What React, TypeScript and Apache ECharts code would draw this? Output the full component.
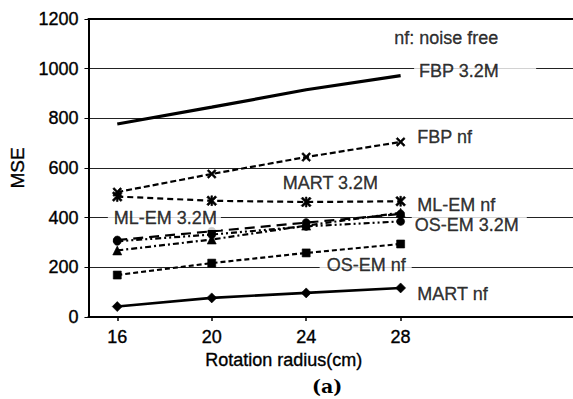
import React, { useEffect, useRef } from "react";
import * as echarts from "echarts";

const radius = [16, 20, 24, 28];
const fbp32 = [777, 845, 915, 972];
const fbpNf = [503, 576, 644, 705];
const mlemNf = [485, 468, 463, 466];
const mart32 = [310, 345, 380, 415];
const mlem32 = [268, 312, 368, 420];
const osem32 = [305, 332, 365, 385];
const osemNf = [169, 217, 258, 294];
const martNf = [42, 77, 97, 117];
const xTicks = [16, 20, 24, 28];
const yTicks = [0, 200, 400, 600, 800, 1000, 1200];

// annotation texts: [text, x (data), y (data), padLeft, padRight]
const annotations: [string, number, number, number, number][] = [
  ["nf: noise free", 27.71, 1124, 0, 0],
  ["FBP 3.2M", 28.55, 991, 5, 37],
  ["FBP nf", 28.6, 725, 2, 2],
  ["MART 3.2M", 22.9, 540, 2, 2],
  ["ML-EM nf", 28.6, 451, 2, 2],
  ["OS-EM 3.2M", 28.45, 370, 3, 8],
  ["ML-EM 3.2M", 15.58, 399, 6, 4],
  ["OS-EM nf", 24.55, 209, 7, 6],
  ["MART nf", 28.6, 93, 2, 2],
];

const FONT = "Liberation Sans, Arial, Helvetica, sans-serif";
const HEAVY = { textBorderColor: "#000", textBorderWidth: 0.35 };
const X_SYM = "path://M0,1.5L1.5,0L5,3.5L8.5,0L10,1.5L6.5,5L10,8.5L8.5,10L5,6.5L1.5,10L0,8.5L3.5,5Z";
const AST_SYM =
  "path://M0,1.5L1.5,0L5,3.5L8.5,0L10,1.5L6.5,5L10,8.5L8.5,10L5,6.5L1.5,10L0,8.5L3.5,5Z M4.2,0L5.8,0L5.8,10L4.2,10Z";

function pts(vals: number[]) {
  return radius.map((r, i) => [r, vals[i]]);
}

function lineSeries(
  name: string,
  vals: number[],
  width: number,
  dash: any,
  symbol: string,
  symbolSize: number
) {
  return {
    name,
    type: "line",
    data: pts(vals),
    symbol,
    symbolSize,
    showSymbol: symbol !== "none",
    lineStyle: { color: "#000", width, type: dash },
    itemStyle: { color: "#000", borderColor: "#000", borderWidth: 0.6 },
    z: 3,
  };
}

export default function App() {
  const ref = useRef<HTMLDivElement>(null);
  useEffect(() => {
    if (!ref.current) return;
    const chart = echarts.init(ref.current, undefined, { renderer: "svg" });
    chart.setOption({
      animation: false,
      backgroundColor: "#fff",
      grid: { left: 84, right: 0, top: 19, bottom: 82, containLabel: false },
      xAxis: [
        {
          type: "value",
          min: 14.78,
          max: 35.3,
          name: "Rotation radius(cm)",
          nameLocation: "middle",
          nameGap: 30,
          nameTextStyle: {
            fontFamily: FONT,
            fontSize: 18,
            color: "#000",
            padding: [0, 94, 0, 0],
            ...HEAVY,
          },
          axisLine: { show: true, lineStyle: { color: "#000", width: 2 } },
          axisTick: {
            show: true,
            customValues: xTicks,
            length: 4,
            lineStyle: { color: "#000", width: 1.5 },
          },
          axisLabel: {
            customValues: xTicks,
            fontFamily: FONT,
            fontSize: 18,
            color: "#000",
            margin: 11,
            ...HEAVY,
          },
          splitLine: { show: false },
        },
        {
          type: "value",
          position: "top",
          min: 14.78,
          max: 35.3,
          axisLine: { show: true, lineStyle: { color: "#000", width: 2 } },
          axisTick: { show: false },
          axisLabel: { show: false },
          splitLine: { show: false },
        },
      ],
      yAxis: {
        type: "value",
        min: 0,
        max: 1200,
        interval: 200,
        name: "MSE",
        nameLocation: "middle",
        nameGap: 39,
        nameTextStyle: { fontFamily: FONT, fontSize: 19, color: "#000", ...HEAVY },
        axisLine: { show: true, lineStyle: { color: "#000", width: 2 } },
        axisTick: { show: true, length: 4, lineStyle: { color: "#000", width: 1 } },
        axisLabel: {
          fontFamily: FONT,
          fontSize: 18,
          color: "#000",
          margin: 10,
          ...HEAVY,
          formatter: (v: number) => (yTicks.includes(v) ? String(v) : ""),
        },
        splitLine: { show: true, lineStyle: { color: "#222", width: 1 } },
      },
      series: [
        lineSeries("FBP 3.2M", fbp32, 3.2, "solid", "none", 0),
        lineSeries("FBP nf", fbpNf, 2.2, [6, 3], X_SYM, 9),
        lineSeries("ML-EM nf", mlemNf, 2.2, [6, 4], AST_SYM, 10),
        lineSeries("MART 3.2M", mart32, 2.2, [10, 6], "circle", 8),
        lineSeries("ML-EM 3.2M", mlem32, 2.2, [6, 3, 2, 3], "triangle", 9),
        lineSeries("OS-EM 3.2M", osem32, 2.2, [6, 3, 2, 3, 2, 3], "circle", 8),
        lineSeries("OS-EM nf", osemNf, 2.2, [5, 3], "rect", 8),
        lineSeries("MART nf", martNf, 2.6, "solid", "diamond", 10),
        {
          name: "labels",
          type: "scatter",
          silent: true,
          symbolSize: 1,
          itemStyle: { color: "rgba(0,0,0,0)" },
          z: 10,
          data: annotations.map(([t, x, y, pl, pr]) => ({
            name: t,
            value: [x, y],
            label: { padding: [3, pr, 3, pl] },
          })),
          label: {
            show: true,
            position: "right",
            distance: 0,
            formatter: "{b}",
            fontFamily: FONT,
            fontSize: 18,
            color: "#000",
            backgroundColor: "#fff",
            ...HEAVY,
          },
        },
      ],
      graphic: [
        {
          type: "text",
          left: 312,
          top: 376,
          style: {
            text: "(a)",
            font: "bold 19px 'DejaVu Serif', 'Liberation Serif', serif",
            fill: "#000",
          },
        },
      ],
    });
    return () => chart.dispose();
  }, []);
  return (
    <div
      ref={ref}
      style={{ position: "fixed", left: 0, top: 0, width: 573, height: 399 }}
    />
  );
}
